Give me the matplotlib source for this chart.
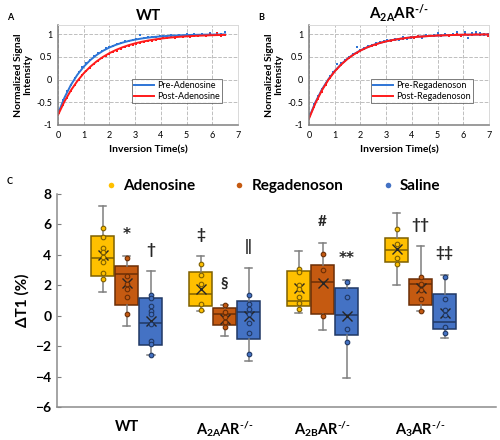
import matplotlib
matplotlib.use('Agg')
import matplotlib.pyplot as plt
from matplotlib.lines import Line2D
import numpy as np

plt.rcParams['font.family'] = ['Lato', 'DejaVu Sans']
plt.rcParams['mathtext.fontset'] = 'custom'
plt.rcParams['mathtext.rm'] = 'Lato:bold'
plt.rcParams['mathtext.it'] = 'Lato:bold'
plt.rcParams['mathtext.bf'] = 'Lato:bold'

# ---- Panel A / B: inversion recovery curves ----
curve_t_a = [0, 0.25, 0.5, 0.75, 1.0, 1.25, 1.5, 1.75, 2.0, 2.25, 2.5, 2.75, 3.0, 3.25,
             3.5, 3.75, 4.0, 4.25, 4.5, 4.75, 5.0, 5.25, 5.5, 5.75, 6.0, 6.25, 6.5]
pre_ado_fit = [-0.75, -0.40, -0.12, 0.104, 0.283, 0.426, 0.541, 0.633, 0.707, 0.765, 0.812,
               0.850, 0.880, 0.904, 0.923, 0.939, 0.951, 0.961, 0.969, 0.975, 0.980, 0.984,
               0.987, 0.990, 0.992, 0.993, 0.995]
post_ado_fit = [-0.78, -0.485, -0.239, -0.034, 0.138, 0.281, 0.400, 0.499, 0.582, 0.651,
                0.709, 0.758, 0.798, 0.831, 0.859, 0.882, 0.902, 0.918, 0.932, 0.943, 0.952,
                0.960, 0.967, 0.972, 0.977, 0.981, 0.984]

pts_t_a = [0.05, 0.2, 0.35, 0.5, 0.65, 0.8, 0.95, 1.1, 1.25, 1.4, 1.55, 1.7, 1.85, 2.0, 2.15,
           2.3, 2.45, 2.6, 2.75, 2.9, 3.05, 3.2, 3.35, 3.5, 3.65, 3.8, 3.95, 4.1, 4.25, 4.4,
           4.55, 4.7, 4.85, 5.0, 5.15, 5.3, 5.45, 5.6, 5.75, 5.9, 6.05, 6.2, 6.35, 6.5]
pre_ado_pts = [-0.66, -0.45, -0.26, -0.11, 0.04, 0.16, 0.27, 0.36, 0.44, 0.52, 0.59, 0.63,
               0.69, 0.72, 0.75, 0.79, 0.81, 0.84, 0.86, 0.87, 0.89, 0.99, 0.91, 0.93, 0.94,
               0.93, 0.96, 0.97, 0.95, 0.99, 0.97, 0.98, 0.96, 1.00, 0.99, 1.01, 0.97, 1.00,
               0.98, 1.02, 0.99, 1.03, 1.00, 1.04]
post_ado_pts = [-0.73, -0.55, -0.40, -0.25, -0.12, -0.01, 0.10, 0.19, 0.26, 0.34, 0.41, 0.47,
                0.52, 0.57, 0.61, 0.64, 0.68, 0.71, 0.74, 0.77, 0.79, 0.81, 0.83, 0.85, 0.86,
                0.88, 0.89, 0.91, 0.92, 0.93, 0.92, 0.95, 0.94, 0.96, 0.93, 0.97, 0.95, 0.99,
                0.97, 1.01, 0.98, 1.03, 0.96, 0.99]

curve_t_b = [0, 0.25, 0.5, 0.75, 1.0, 1.25, 1.5, 1.75, 2.0, 2.25, 2.5, 2.75, 3.0, 3.25,
             3.5, 3.75, 4.0, 4.25, 4.5, 4.75, 5.0, 5.25, 5.5, 5.75, 6.0, 6.25, 6.5, 6.75, 7.0]
pre_reg_fit = [-0.84, -0.499, -0.221, 0.005, 0.189, 0.339, 0.462, 0.562, 0.643, 0.709, 0.763,
               0.807, 0.843, 0.872, 0.895, 0.915, 0.931, 0.944, 0.954, 0.962, 0.969, 0.975,
               0.980, 0.984, 0.987, 0.989, 0.991, 0.993, 0.994]
post_reg_fit = [-0.86, -0.52, -0.24, -0.01, 0.18, 0.33, 0.455, 0.556, 0.638, 0.705, 0.759,
                0.804, 0.841, 0.870, 0.894, 0.914, 0.930, 0.943, 0.953, 0.962, 0.969, 0.975,
                0.980, 0.984, 0.987, 0.989, 0.991, 0.993, 0.994]

pts_t_b = pts_t_a + [6.65, 6.8, 6.95]
pre_reg_pts = [-0.75, -0.54, -0.36, -0.20, -0.07, 0.07, 0.17, 0.34, 0.36, 0.43, 0.50, 0.56,
               0.71, 0.66, 0.69, 0.74, 0.77, 0.80, 0.83, 0.84, 0.88, 0.87, 0.90, 0.88, 0.93,
               0.90, 0.91, 0.93, 0.95, 0.92, 0.98, 0.96, 0.99, 1.03, 0.98, 1.00, 0.99, 1.01,
               1.04, 0.97, 1.05, 0.92, 1.03, 1.04, 1.02, 0.99, 1.00]
post_reg_pts = [-0.80, -0.60, -0.43, -0.27, -0.12, 0.03, 0.14, 0.23, 0.32, 0.40, 0.47, 0.53,
                0.58, 0.62, 0.67, 0.71, 0.75, 0.77, 0.80, 0.82, 0.84, 0.86, 0.87, 0.89, 0.90,
                0.92, 0.93, 0.92, 0.95, 0.94, 0.97, 0.95, 0.96, 0.98, 0.95, 0.99, 0.97, 0.98,
                1.00, 0.97, 1.00, 0.99, 0.98, 1.00, 0.99, 1.00, 0.97]

# ---- Panel C: delta T1 box plots ----
ko = '$^{\u2010/\u2010}$'
groups = ['WT', 'A$_{2A}$AR' + ko, 'A$_{2B}$AR' + ko, 'A$_{3}$AR' + ko]
treatments = ['Adenosine', 'Regadenoson', 'Saline']

ado_lo = [1.56, 0.31, 0.20, 2.04]
ado_q1 = [2.63, 0.64, 0.66, 3.53]
ado_med = [3.79, 1.41, 0.99, 4.32]
ado_q3 = [5.24, 2.87, 2.94, 5.11]
ado_hi = [7.23, 3.92, 4.27, 6.73]
ado_mean = [3.99, 1.73, 1.80, 4.40]
ado_pts = [[5.79, 5.17, 4.45, 4.17, 3.84, 3.55, 2.81, 2.43],
           [3.42, 2.70, 2.06, 0.75, 0.37],
           [3.09, 2.90, 2.02, 1.75, 1.25, 0.85, 0.45],
           [5.70, 4.71, 3.77, 3.40]]

reg_lo = [-0.70, -1.31, -0.94, 0.29]
reg_q1 = [0.70, -0.63, 0.09, 0.68]
reg_med = [2.75, 0.11, 2.24, 2.06]
reg_q3 = [3.25, 0.51, 3.31, 2.39]
reg_hi = [3.92, 0.70, 4.76, 4.58]
reg_mean = [2.13, -0.22, 2.13, 1.84]
reg_pts = [[3.79, 2.63, 2.06, 1.73, 1.23, 0.13],
           [0.68, 0.26, -0.09, -0.39, -0.72],
           [4.03, 2.98, -0.02],
           [2.52, 2.06, 1.69, 1.08, 0.29]]

sal_lo = [-2.60, -3.00, -4.10, -1.49]
sal_q1 = [-1.95, -1.53, -1.27, -0.87]
sal_med = [-0.46, 0.22, 0.02, -0.39]
sal_q3 = [1.16, 0.99, 1.84, 1.43]
sal_hi = [2.94, 3.16, 2.35, 2.70]
sal_mean = [-0.35, -0.02, 0.00, 0.20]
sal_pts = [[1.36, 1.14, 0.64, 0.33, 0.09, -0.57, -1.66, -1.86, -2.60],
           [1.36, 0.75, 0.42, 0.13, -0.46, -1.14, -2.54],
           [2.21, 1.25, -0.90, -1.71],
           [2.52, 1.10, 0.38, 0.03, -0.72, -1.12]]

# significance marks: (group index, treatment index, symbol)
sig_marks = [(0, 1, '*'), (0, 2, '†'), (1, 0, '‡'), (1, 1, '§'), (1, 2, '‖'),
             (2, 1, '#'), (2, 2, '**'), (3, 1, '††'), (3, 2, '‡‡')]

fills = ['#FFC000', '#C55A11', '#4472C4']
edges = ['#7F6000', '#6B2E06', '#203864']

fig = plt.figure(figsize=(5.0, 4.4), dpi=100)


def curve_panel(rect, title, t_fit, fit1, fit2, t_pts, pts1, pts2, labels, letter, lx):
    ax = fig.add_axes(rect)
    ax.plot(t_pts, pts1, 's', ms=1.9, color='#2E75D6', mew=0)
    ax.plot(t_pts, pts2, 's', ms=1.9, color='#FF1A1A', mew=0)
    l1, = ax.plot(t_fit, fit1, color='#2E75D6', lw=1.4, label=labels[0])
    l2, = ax.plot(t_fit, fit2, color='#FF1A1A', lw=1.4, label=labels[1])
    ax.set_xlim(0, 7)
    ax.set_ylim(-1, 1.2)
    ax.set_xticks(range(8))
    ax.set_yticks([-1, -0.5, 0, 0.5, 1])
    ax.set_yticklabels(['-1', '-0.5', '0', '0.5', '1'])
    ax.grid(True, ls='--', color='#BFBFBF', lw=0.7)
    ax.tick_params(length=0, labelsize=6.5, pad=4)
    for s in ['left', 'bottom']:
        ax.spines[s].set_color('#808080')
        ax.spines[s].set_linewidth(1.1)
    for s in ['top', 'right']:
        ax.spines[s].set_color('#D9D9D9')
        ax.spines[s].set_linewidth(0.7)
    ax.set_xlabel('Inversion Time(s)', fontsize=7.5, fontweight='bold', labelpad=4)
    ax.set_ylabel('Normalized Signal\nIntensity', fontsize=7.5, fontweight='bold',
                  labelpad=3, linespacing=1.1)
    ax.set_title(title, fontsize=11, fontweight='bold', pad=4)
    leg = ax.legend(handles=[l1, l2], loc='lower right', bbox_to_anchor=(0.91, 0.22),
                    fontsize=6.5, frameon=True, fancybox=False, handlelength=2.2,
                    handletextpad=0.3, borderpad=0.25, labelspacing=0.15, borderaxespad=0)
    leg.get_frame().set_edgecolor('#404040')
    leg.get_frame().set_linewidth(0.6)
    fig.text(lx, 0.955, letter, fontsize=6.5, fontweight='bold')
    return ax


curve_panel([0.116, 0.716, 0.36, 0.227], 'WT', curve_t_a, pre_ado_fit, post_ado_fit,
            pts_t_a, pre_ado_pts, post_ado_pts, ['Pre-Adenosine', 'Post-Adenosine'], 'A', 0.014)
curve_panel([0.618, 0.716, 0.36, 0.227], 'A$_{2A}$AR' + ko, curve_t_b,
            pre_reg_fit, post_reg_fit, pts_t_b, pre_reg_pts, post_reg_pts,
            ['Pre-Regadenoson', 'Post-Regadenoson'], 'B', 0.516)

# ---- Panel C ----
ax = fig.add_axes([0.114, 0.075, 0.878, 0.484])
offsets = [-0.245, 0, 0.245]
box_w = 0.23
series = [
    (ado_lo, ado_q1, ado_med, ado_q3, ado_hi, ado_mean, ado_pts),
    (reg_lo, reg_q1, reg_med, reg_q3, reg_hi, reg_mean, reg_pts),
    (sal_lo, sal_q1, sal_med, sal_q3, sal_hi, sal_mean, sal_pts),
]
for k, (lo, q1, med, q3, hi, mean, pts) in enumerate(series):
    stats = []
    for g in range(len(groups)):
        stats.append(dict(whislo=lo[g], q1=q1[g], med=med[g], q3=q3[g], whishi=hi[g],
                          mean=mean[g], fliers=[]))
    pos = [g + offsets[k] for g in range(len(groups))]
    ax.bxp(stats, positions=pos, widths=box_w, patch_artist=True, showmeans=True,
           showfliers=False, capwidths=0.08,
           boxprops=dict(facecolor=fills[k], edgecolor=edges[k], linewidth=1.1),
           whiskerprops=dict(color='#7F7F7F', linewidth=1.1),
           capprops=dict(color='#7F7F7F', linewidth=1.1),
           medianprops=dict(color=edges[k], linewidth=1.1),
           meanprops=dict(marker='x', markersize=7.5, markeredgecolor='#262626',
                          markeredgewidth=1.0))
    for g in range(len(groups)):
        ax.plot([pos[g]] * len(pts[g]), pts[g], 'o', ms=3.3, mfc=fills[k],
                mec=edges[k], mew=0.8, zorder=4)

his = [ado_hi, reg_hi, sal_hi]
for g, k, sym in sig_marks:
    fam = ['DejaVu Sans'] if '*' in sym else ['Lato', 'DejaVu Sans']
    ax.text(g + offsets[k], his[k][g] + 1.4, sym, ha='center', va='center',
            fontsize=11, fontweight='bold', color='#262626', family=fam)

ax.set_xlim(-0.71, 3.77)
ax.set_ylim(-6, 8)
ax.set_yticks(range(-6, 9, 2))
ax.set_xticks(range(len(groups)))
ax.set_xticklabels(groups)
ax.tick_params(axis='y', direction='in', length=3, color='#7F7F7F', labelsize=10, pad=4)
ax.tick_params(axis='x', length=0, labelsize=10.5, pad=9)
for lab in ax.get_yticklabels() + ax.get_xticklabels():
    lab.set_fontweight('bold')
for s in ['top', 'right']:
    ax.spines[s].set_visible(False)
for s in ['left', 'bottom']:
    ax.spines[s].set_color('#8C8C8C')
    ax.spines[s].set_linewidth(1.1)
ax.set_ylabel('ΔT1 (%)', fontsize=11, fontweight='bold', labelpad=4)

handles = [Line2D([], [], ls='none', marker='o', ms=4, mfc=fills[k], mec='none')
           for k in range(len(treatments))]
fig.legend(handles, treatments, loc='center', bbox_to_anchor=(0.545, 0.577), ncol=3,
           frameon=False, handlelength=0.8, handletextpad=0.4, columnspacing=2.5,
           prop=dict(size=11, weight='bold'))
fig.text(0.014, 0.582, 'C', fontsize=6.5, fontweight='bold')

fig.savefig('out.png', dpi=100)
